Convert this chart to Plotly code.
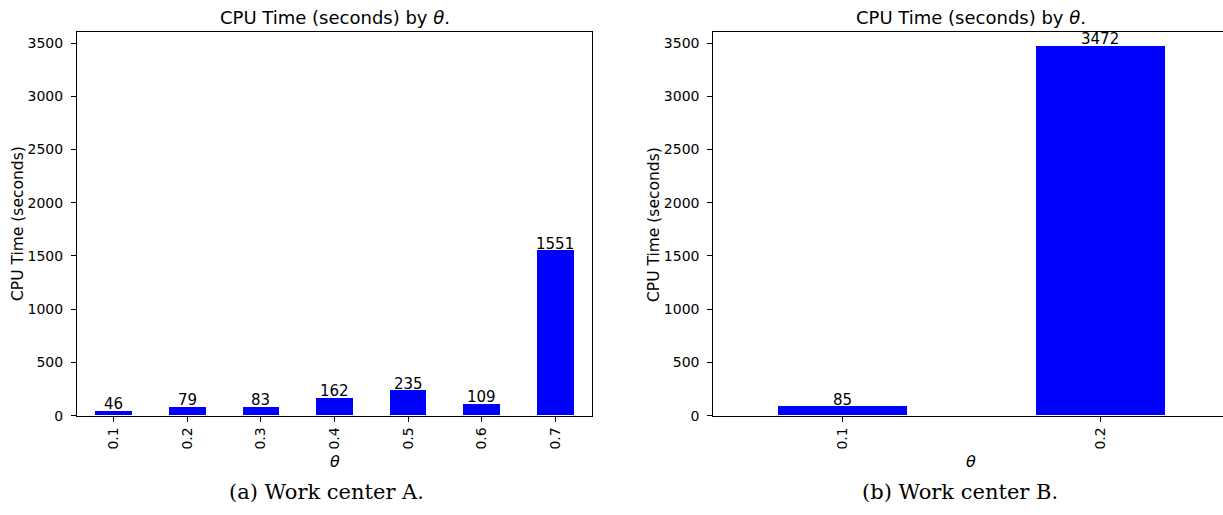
import plotly.graph_objects as go

# Data
theta_a = ["0.1", "0.2", "0.3", "0.4", "0.5", "0.6", "0.7"]
cpu_a = [46, 79, 83, 162, 235, 109, 1551]
theta_b = ["0.1", "0.2"]
cpu_b = [85, 3472]
y_ticks = [0, 500, 1000, 1500, 2000, 2500, 3000, 3500]
title_text = "CPU Time (seconds) by <i>θ</i>."
ylabel_text = "CPU Time (seconds)"
xlabel_text = "<i>θ</i>"
caption_a = "(a) Work center A."
caption_b = "(b) Work center B."

W, H = 1223, 515
BLUE = "#0000ff"
FONT = "DejaVu Sans"

def px(x):
    return x / W

def py(y):
    return 1 - y / H

fig = go.Figure()
fig.add_trace(go.Bar(x=theta_a, y=cpu_a, width=0.5, marker=dict(color=BLUE, line=dict(width=0)),
                     xaxis="x", yaxis="y", showlegend=False, hoverinfo="skip"))
fig.add_trace(go.Bar(x=theta_b, y=cpu_b, width=0.5, marker=dict(color=BLUE, line=dict(width=0)),
                     xaxis="x2", yaxis="y2", showlegend=False, hoverinfo="skip"))

ydom = [py(415.7), py(32.3)]
common_x = dict(type="category", showline=True, linecolor="black", linewidth=1,
                ticks="outside", ticklen=5, tickcolor="black", tickangle=-90,
                showgrid=False, zeroline=False, automargin=False,
                tickfont=dict(family=FONT, size=14, color="black"))
common_y = dict(range=[0, 3601], tickvals=y_ticks, showline=True, linecolor="black", linewidth=1,
                ticks="outside", ticklen=5, tickcolor="black", showgrid=False, zeroline=False,
                automargin=False, ticklabelstandoff=5,
                tickfont=dict(family=FONT, size=14, color="black"), domain=ydom)

fig.update_layout(
    width=W, height=H, margin=dict(l=0, r=0, t=0, b=0, autoexpand=False),
    paper_bgcolor="white", plot_bgcolor="white", bargap=0,
    xaxis=dict(common_x, domain=[px(77), px(592)], range=[-0.5, 6.5], mirror=True, anchor="y"),
    yaxis=dict(common_y, mirror=True, anchor="x"),
    xaxis2=dict(common_x, domain=[px(713.3), 1], range=[-0.5, 1.4756], mirror=True, anchor="y2"),
    yaxis2=dict(common_y, mirror=False, anchor="x2"),
)

ann = []
# bar value labels (x given as category index)
for xs, ys, xr, yr in [(theta_a, cpu_a, "x", "y"), (theta_b, cpu_b, "x2", "y2")]:
    for i, yv in enumerate(ys):
        ann.append(dict(text=str(yv), x=i, y=yv, xref=xr, yref=yr, showarrow=False,
                        xanchor="center", yanchor="bottom", yshift=-3, borderpad=0,
                        font=dict(family=FONT, size=15, color="black")))
for cx, ylx in [(334.5, 18), (971, 654)]:
    ann.append(dict(text=title_text, x=px(cx), y=py(17), xref="paper", yref="paper",
                    showarrow=False, xanchor="center", yanchor="middle",
                    font=dict(family=FONT, size=18, color="black")))
    ann.append(dict(text=ylabel_text, x=px(ylx), y=py(224), xref="paper", yref="paper",
                    showarrow=False, xanchor="center", yanchor="middle", textangle=-90,
                    font=dict(family=FONT, size=15.5, color="black")))
    ann.append(dict(text=xlabel_text, x=px(cx), y=py(461), xref="paper", yref="paper",
                    showarrow=False, xanchor="center", yanchor="middle",
                    font=dict(family=FONT, size=16, color="black")))
ann.append(dict(text=caption_a, x=px(327), y=py(492), xref="paper", yref="paper",
                showarrow=False, xanchor="center", yanchor="middle",
                font=dict(family="DejaVu Serif", size=21, color="black")))
ann.append(dict(text=caption_b, x=px(960), y=py(492), xref="paper", yref="paper",
                showarrow=False, xanchor="center", yanchor="middle",
                font=dict(family="DejaVu Serif", size=21, color="black")))
fig.update_layout(annotations=ann)

fig.write_html("out.html", config={"displayModeBar": False},
               post_script="document.body.style.margin='0';document.body.style.overflow='hidden';")
